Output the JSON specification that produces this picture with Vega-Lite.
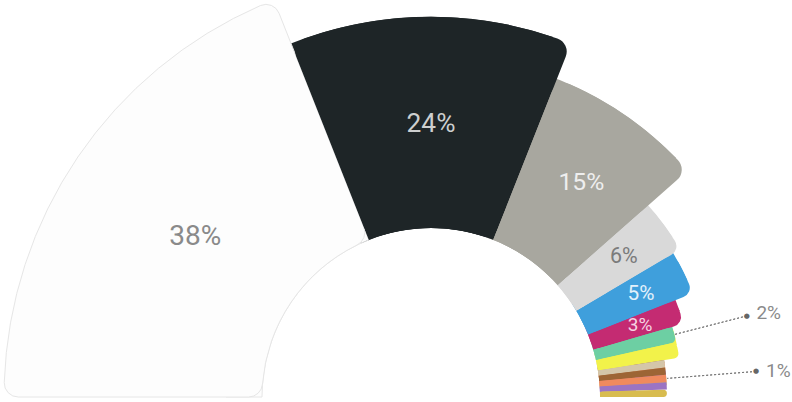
{
  "$schema": "https://vega.github.io/schema/vega-lite/v6.json",
  "background": "white",
  "autosize": "none",
  "width": 862,
  "height": 794,
  "padding": {"left": 0, "top": 0, "right": -70, "bottom": -392},
  "config": {"view": {"stroke": null}},
  "datasets": {
    "slices": [
      {"segment": "A", "value": 38, "label": "38%"},
      {"segment": "B", "value": 24, "label": "24%"},
      {"segment": "C", "value": 15, "label": "15%"},
      {"segment": "D", "value": 6, "label": "6%"},
      {"segment": "E", "value": 5, "label": "5%"},
      {"segment": "F", "value": 3, "label": "3%"},
      {"segment": "G", "value": 2, "label": "2%"},
      {"segment": "H", "value": 2, "label": "2%"},
      {"segment": "I", "value": 1, "label": "1%"},
      {"segment": "J", "value": 1, "label": "1%"},
      {"segment": "K", "value": 1, "label": "1%"},
      {"segment": "L", "value": 1, "label": "1%"},
      {"segment": "M", "value": 1, "label": "1%"}
    ],
    "callouts": [
      {"label": "2%", "at": 92},
      {"label": "1%", "at": 97.5}
    ]
  },
  "resolve": {"scale": {"radius": "independent", "color": "independent", "size": "independent"}},
  "layer": [
    {
      "data": {"name": "callouts"},
      "mark": {"type": "arc", "fill": "transparent", "stroke": "#7a7a7a", "strokeWidth": 1, "strokeDash": [2, 2]},
      "encoding": {
        "theta": {"field": "at", "type": "quantitative", "stack": null, "scale": {"domain": [0, 100], "range": [-1.5707963, 1.5707963]}},
        "theta2": {"field": "at"},
        "radius": {"value": 326},
        "radius2": {"value": 237}
      }
    },
    {
      "data": {"name": "callouts"},
      "mark": {"type": "text", "text": "●", "font": "DejaVu Sans", "fontSize": 7, "color": "#666666", "align": "center", "baseline": "middle"},
      "encoding": {
        "theta": {"field": "at", "type": "quantitative", "stack": null, "scale": {"domain": [0, 100], "range": [-1.5707963, 1.5707963]}},
        "radius": {"value": 326}
      }
    },
    {
      "data": {"name": "callouts"},
      "mark": {"type": "text", "font": "Roboto", "fontSize": 19, "color": "#8a8a8a", "align": "left", "baseline": "middle"},
      "encoding": {
        "theta": {"field": "at", "type": "quantitative", "stack": null, "scale": {"domain": [0, 100], "range": [-1.5707963, 1.5707963]}},
        "radius": {"value": 336},
        "text": {"field": "label"}
      }
    },
    {
      "data": {"name": "slices"},
      "mark": {"type": "arc", "innerRadius": 169, "thetaOffset": -0.05},
      "encoding": {
        "theta": {"field": "value", "type": "quantitative", "stack": true, "scale": {"domain": [0, 100], "range": [-1.5707963, 1.5707963]}},
        "order": {"field": "segment", "type": "ordinal"},
        "radius": {"field": "value", "type": "quantitative", "scale": {"type": "sqrt", "zero": true, "domain": [0, 38], "range": [199, 427]}},
        "color": {
          "field": "segment", "type": "nominal", "legend": null,
          "scale": {
            "domain": ["A", "B", "C", "D", "E", "F", "G", "H", "I", "J", "K", "L", "M"],
            "range": ["#fdfdfd", "#1e2527", "#a8a79f", "#d9d9d9", "#3f9fdc", "#c42b72", "#6dcfa3", "#f2f24a", "#d4c6a9", "#9d6535", "#ef8a5e", "#9b74c3", "#d8bc4f"]
          }
        },
        "fillOpacity": {"condition": {"test": "datum.segment === 'A'", "value": 0}, "value": 1}
      }
    },
    {
      "data": {"name": "slices"},
      "mark": {"type": "arc", "innerRadius": 169, "strokeWidth": 1},
      "encoding": {
        "theta": {"field": "value", "type": "quantitative", "stack": true, "scale": {"domain": [0, 100], "range": [-1.5707963, 1.5707963]}},
        "order": {"field": "segment", "type": "ordinal"},
        "radius": {"value": 205},
        "color": {
          "field": "segment", "type": "nominal", "legend": null,
          "scale": {
            "domain": ["A", "B", "C", "D", "E", "F", "G", "H", "I", "J", "K", "L", "M"],
            "range": ["#fdfdfd", "#1e2527", "#a8a79f", "#d9d9d9", "#3f9fdc", "#c42b72", "#6dcfa3", "#f2f24a", "#d4c6a9", "#9d6535", "#ef8a5e", "#9b74c3", "#d8bc4f"]
          }
        },
        "stroke": {"condition": {"test": "datum.segment === 'A'", "value": "#e6e6e6"}, "value": "transparent"}
      }
    },
    {
      "data": {"name": "slices"},
      "mark": {
        "type": "arc", "innerRadius": 169, "strokeWidth": 1,
        "cornerRadius": {"expr": "datum.value >= 15 ? 14 : datum.value >= 3 ? 10 : datum.value >= 2 ? 5 : datum.segment === 'M' ? 4 : 0"}
      },
      "encoding": {
        "theta": {"field": "value", "type": "quantitative", "stack": true, "scale": {"domain": [0, 100], "range": [-1.5707963, 1.5707963]}},
        "order": {"field": "segment", "type": "ordinal"},
        "radius": {"field": "value", "type": "quantitative", "scale": {"type": "sqrt", "zero": true, "domain": [0, 38], "range": [199, 427]}},
        "color": {
          "field": "segment", "type": "nominal", "legend": null,
          "scale": {
            "domain": ["A", "B", "C", "D", "E", "F", "G", "H", "I", "J", "K", "L", "M"],
            "range": ["#fdfdfd", "#1e2527", "#a8a79f", "#d9d9d9", "#3f9fdc", "#c42b72", "#6dcfa3", "#f2f24a", "#d4c6a9", "#9d6535", "#ef8a5e", "#9b74c3", "#d8bc4f"]
          }
        },
        "stroke": {"condition": {"test": "datum.segment === 'A'", "value": "#e6e6e6"}, "value": "transparent"}
      }
    },
    {
      "data": {"name": "slices"},
      "mark": {"type": "text", "font": "Roboto", "align": "center", "baseline": "middle"},
      "encoding": {
        "theta": {"field": "value", "type": "quantitative", "stack": true, "scale": {"domain": [0, 100], "range": [-1.5707963, 1.5707963]}},
        "order": {"field": "segment", "type": "ordinal"},
        "radius": {"field": "value", "type": "quantitative", "scale": {"type": "log", "domain": [3, 38], "range": [221, 285]}},
        "size": {"field": "value", "type": "quantitative", "legend": null, "scale": {"type": "log", "domain": [3, 38], "range": [19, 28]}},
        "text": {"condition": {"test": "datum.value >= 3", "field": "label"}, "value": ""},
        "color": {
          "field": "segment", "type": "nominal", "legend": null,
          "scale": {
            "domain": ["A", "B", "C", "D", "E", "F", "G", "H", "I", "J", "K", "L", "M"],
            "range": ["#8a8a8a", "#cdcfcf", "#eeeeee", "#7b7b7b", "#e3f1fb", "#f6d3e2", "#ffffff", "#ffffff", "#ffffff", "#ffffff", "#ffffff", "#ffffff", "#ffffff"]
          }
        }
      }
    }
  ]
}
